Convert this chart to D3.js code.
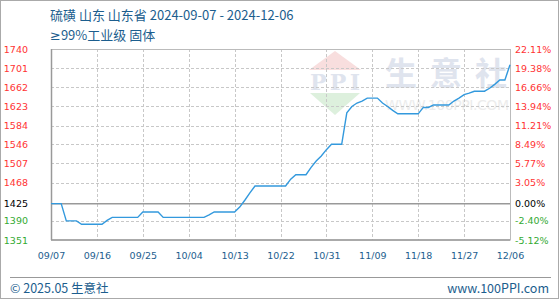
<!DOCTYPE html>
<html>
<head>
<meta charset="utf-8">
<script src="https://cdn.jsdelivr.net/npm/d3@7/dist/d3.min.js"></script>
<style>
  body { margin: 0; background: #fff; }
  svg { display: block; }
</style>
</head>
<body>
<div id="chart"></div>
<script>
// 硫磺 山东 daily price, 2024-09-07 .. 2024-12-06
var startDate = "2024-09-07";
var prices = [
  1425, 1425, 1425, 1390, 1390, 1390, 1383, 1383, 1383, 1383,
  1383, 1391, 1397, 1397, 1397, 1397, 1397, 1397, 1408, 1408,
  1408, 1408, 1397, 1397, 1397, 1397, 1397, 1397, 1397, 1397,
  1397, 1402, 1408, 1408, 1408, 1408, 1408, 1418, 1432, 1447,
  1461, 1461, 1461, 1461, 1461, 1461, 1461, 1475, 1484, 1484,
  1484, 1499, 1512, 1522, 1535, 1546, 1546, 1546, 1610, 1623,
  1630, 1634, 1640, 1640, 1640, 1630, 1623, 1615, 1608, 1608,
  1608, 1608, 1608, 1621, 1621, 1626, 1626, 1626, 1626, 1634,
  1640, 1647, 1650, 1654, 1654, 1654, 1660, 1668, 1677, 1677,
  1708
];
var xLabels = ["09/07", "09/16", "09/25", "10/04", "10/13", "10/22", "10/31", "11/09", "11/18", "11/27", "12/06"];
var leftTicks = [1351, 1390, 1425, 1468, 1507, 1546, 1584, 1623, 1662, 1701, 1740];
var rightTicks = ["-5.12%", "-2.40%", "0.00%", "3.05%", "5.77%", "8.49%", "11.21%", "13.94%", "16.66%", "19.38%", "22.11%"];
var basePrice = 1425;

var W = 560, H = 300;
var margin = {top: 49, right: 50, bottom: 60, left: 51},
    width = W - margin.left - margin.right,
    height = H - margin.top - margin.bottom;

var blue = "#1c5e8e", red = "#ff3333", green = "#33aa33";
var axisFont = "'DejaVu Sans', sans-serif";
var cjkFont = "'Noto Sans CJK SC', 'Noto Sans', sans-serif";

var parse = d3.timeParse("%Y-%m-%d");
var t0 = parse(startDate);
var data = prices.map(function(p, i) { return {date: d3.timeDay.offset(t0, i), price: p}; });
var tickDates = xLabels.map(function(l, i) { return d3.timeDay.offset(t0, i * 9); });

var svg = d3.select("#chart").append("svg")
    .attr("width", W).attr("height", H);

// outer border
svg.append("rect")
    .attr("x", 0.5).attr("y", 0.5)
    .attr("width", W - 2).attr("height", H - 2)
    .attr("fill", "none").attr("stroke", "#aaa");

// title
svg.append("text")
    .attr("x", 50).attr("y", 20)
    .style("font-family", cjkFont).style("font-size", "13px")
    .attr("fill", blue)
    .text("硫磺 山东 山东省 2024-09-07 - 2024-12-06");
var sub = svg.append("text")
    .attr("x", 50).attr("y", 40)
    .style("font-family", cjkFont).style("font-size", "13px")
    .attr("fill", blue);
sub.append("tspan").style("font-family", axisFont).text("≥");
sub.append("tspan").text("99%工业级 固体");

var g = svg.append("g")
    .attr("transform", "translate(" + margin.left + "," + margin.top + ")");

var x = d3.scaleTime()
    .domain(d3.extent(data, function(d) { return d.date; }))
    .range([0, width]);
var y = d3.scaleLinear()
    .domain([leftTicks[0], leftTicks[leftTicks.length - 1]])
    .range([height, 0]);

// watermark
var wm = g.append("g");
wm.append("path")
    .attr("d", "M284,2 L310,21 L258,21 Z")
    .attr("fill", "#f8dede");
wm.append("text")
    .attr("x", 284).attr("y", 41).attr("text-anchor", "middle")
    .attr("textLength", 50)
    .style("font-family", "'DejaVu Serif', serif").style("font-size", "22px").style("font-weight", "bold")
    .attr("fill", "#dfe4ee").text("PPI");
wm.append("path")
    .attr("d", "M259,44 L309,44 L284,66 Z")
    .attr("fill", "#ddf0dd");
wm.selectAll(".wmch")
    .data(["生", "意", "社"])
    .enter().append("text")
    .attr("x", function(d, i) { return 334 + i * 45; })
    .attr("y", 36)
    .style("font-family", cjkFont).style("font-size", "32px").style("font-weight", "bold")
    .attr("fill", "#dfe4ee")
    .text(function(d) { return d; });
wm.append("text")
    .attr("x", 334).attr("y", 61)
    .attr("textLength", 124)
    .style("font-family", axisFont).style("font-size", "14px")
    .attr("fill", "#ececec").text("WWW.100PPI.COM");

// horizontal grid
g.selectAll(".hgrid")
    .data(leftTicks.filter(function(v) { return v !== basePrice && v !== leftTicks[0] && v !== leftTicks[leftTicks.length - 1]; }))
    .enter().append("line")
    .attr("x1", 0).attr("x2", width)
    .attr("y1", function(d) { return Math.round(y(d)) + 0.5; })
    .attr("y2", function(d) { return Math.round(y(d)) + 0.5; })
    .attr("stroke", "#c8c8c8").attr("stroke-dasharray", "3,2");

// vertical grid
g.selectAll(".vgrid")
    .data(tickDates.slice(1, -1))
    .enter().append("line")
    .attr("x1", function(d) { return Math.round(x(d)) + 0.5; })
    .attr("x2", function(d) { return Math.round(x(d)) + 0.5; })
    .attr("y1", 0).attr("y2", height)
    .attr("stroke", "#c8c8c8").attr("stroke-dasharray", "3,2");

// frame
g.append("rect")
    .attr("x", 0.5).attr("y", 0.5)
    .attr("width", width).attr("height", height - 0.5)
    .attr("fill", "none").attr("stroke", "#bbb");
g.append("line")
    .attr("x1", 0.5).attr("x2", 0.5).attr("y1", 0).attr("y2", height)
    .attr("stroke", "#999").attr("stroke-width", 1.5);
g.append("line")
    .attr("x1", 0).attr("x2", width).attr("y1", height).attr("y2", height)
    .attr("stroke", "#999").attr("stroke-width", 1.5);

// base price line
g.append("line")
    .attr("x1", 0).attr("x2", width)
    .attr("y1", y(basePrice)).attr("y2", y(basePrice))
    .attr("stroke", "#999").attr("stroke-width", 1.5);

// price line
g.append("path")
    .datum(data)
    .attr("fill", "none")
    .attr("stroke", "#3399dd")
    .attr("stroke-width", 1.4)
    .attr("d", d3.line()
        .x(function(d) { return x(d.date); })
        .y(function(d) { return y(d.price); }));

function tickColor(v) {
  return v > basePrice ? red : (v < basePrice ? green : "#000");
}

// left axis
var leftAxis = g.append("g")
    .call(d3.axisLeft(y).tickValues(leftTicks).tickSize(0).tickPadding(23)
        .tickFormat(d3.format("d")));
leftAxis.select(".domain").remove();
leftAxis.selectAll("text")
    .style("font-family", axisFont).style("font-size", "9.5px")
    .attr("fill", function(d) { return tickColor(d); });

// right axis
var rightAxis = g.append("g")
    .attr("transform", "translate(" + width + ",0)")
    .call(d3.axisRight(y).tickValues(leftTicks).tickSize(0).tickPadding(5)
        .tickFormat(function(d, i) { return rightTicks[i]; }));
rightAxis.select(".domain").remove();
rightAxis.selectAll("text")
    .style("font-family", axisFont).style("font-size", "9.5px")
    .attr("fill", function(d) { return tickColor(d); });

// bottom axis
var bottomAxis = g.append("g")
    .attr("transform", "translate(0," + height + ")")
    .call(d3.axisBottom(x).tickValues(tickDates).tickSize(0).tickPadding(12)
        .tickFormat(function(d, i) { return xLabels[i]; }));
bottomAxis.select(".domain").remove();
bottomAxis.selectAll("text")
    .style("font-family", axisFont).style("font-size", "9.5px")
    .attr("fill", blue);

// footer
svg.append("line")
    .attr("x1", 10).attr("x2", 551)
    .attr("y1", 277.5).attr("y2", 277.5)
    .attr("stroke", "#999");
svg.append("text")
    .attr("x", 10).attr("y", 293)
    .style("font-family", cjkFont).style("font-size", "12.5px")
    .attr("fill", blue)
    .text("© 2025.05 生意社");
svg.append("text")
    .attr("x", 549).attr("y", 293).attr("text-anchor", "end")
    .style("font-family", cjkFont).style("font-size", "12.5px")
    .attr("fill", blue)
    .text("www.100PPI.com");
</script>
</body>
</html>
